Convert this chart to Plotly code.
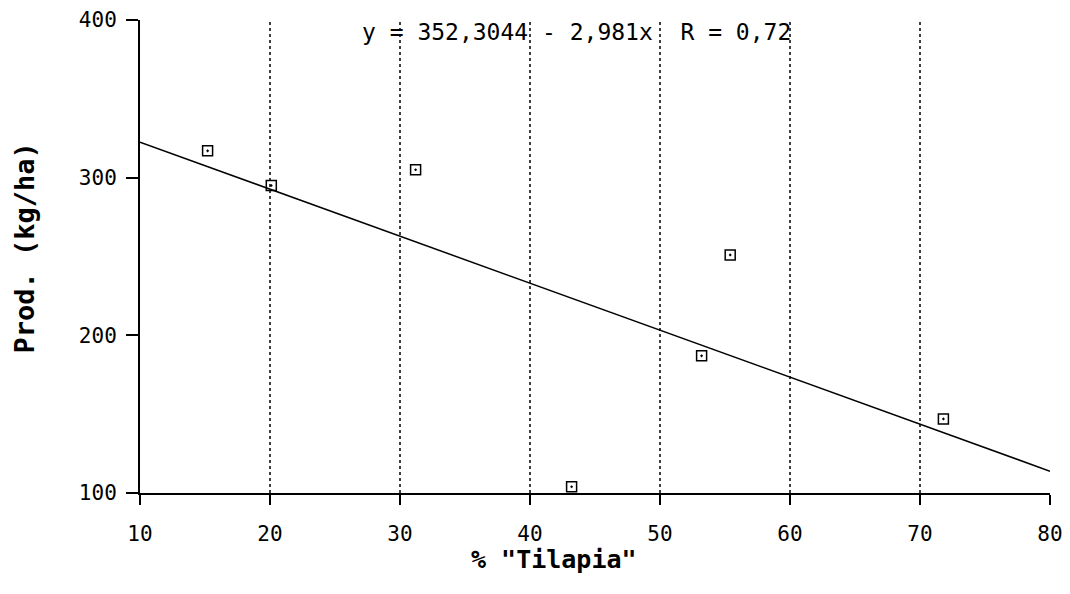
import plotly.graph_objects as go

# Data
tilapia_pct = [15.2, 20.1, 31.2, 43.2, 53.2, 55.4, 71.8]
prod_kg_ha = [317, 295, 305, 104, 187, 251, 147]

intercept = 352.3044
slope = -2.981
fit_x = [10, 80]
fit_y = [intercept + slope * v for v in fit_x]

x_ticks = [10, 20, 30, 40, 50, 60, 70, 80]
y_ticks = [100, 200, 300, 400]
grid_x = [20, 30, 40, 50, 60, 70]

equation_text = "y = 352,3044 - 2,981x  R = 0,72"
x_title = '% "Tilapia"'
y_title = "Prod. (kg/ha)"

MONO = "DejaVu Sans Mono"

fig = go.Figure()

fig.add_trace(go.Scatter(
    x=fit_x, y=fit_y, mode="lines",
    line=dict(color="black", width=1.5),
    showlegend=False, hoverinfo="skip",
))
fig.add_trace(go.Scatter(
    x=tilapia_pct, y=prod_kg_ha, mode="markers",
    marker=dict(symbol="square-open-dot", size=10, color="black",
                line=dict(color="black", width=1.5)),
    showlegend=False,
))

for gx in grid_x:
    fig.add_shape(type="line", xref="x", yref="y",
                  x0=gx, x1=gx, y0=y_ticks[0], y1=y_ticks[-1],
                  line=dict(color="black", width=1.5, dash="dot"),
                  layer="below")

fig.add_annotation(
    x=0.48, y=0.975, xref="paper", yref="paper",
    xanchor="center", yanchor="middle",
    text=equation_text, showarrow=False,
    font=dict(family=MONO, size=23, color="black"),
)
fig.add_annotation(
    x=0.455, y=0, xref="paper", yref="paper",
    xanchor="center", yanchor="middle", yshift=-66,
    text="<b>" + x_title + "</b>", showarrow=False,
    font=dict(family=MONO, size=25, color="black"),
)
fig.add_annotation(
    x=0, y=0.5, xref="paper", yref="paper",
    xanchor="center", yanchor="middle", xshift=-116, yshift=8,
    text="<b>" + y_title + "</b>", showarrow=False, textangle=-90,
    font=dict(family=MONO, size=27, color="black"),
)

fig.update_layout(
    width=1070, height=594,
    margin=dict(l=132, r=28, t=12, b=109, autoexpand=False),
    paper_bgcolor="white", plot_bgcolor="white",
    font=dict(family=MONO, size=21, color="black"),
)
fig.update_xaxes(
    range=[10, 80], tickvals=x_ticks, showgrid=False, zeroline=False,
    showline=True, linecolor="black", linewidth=2,
    ticks="outside", ticklen=10, tickwidth=1.5, tickcolor="black",
    tickfont=dict(family=MONO, size=21), ticklabelstandoff=11,
    automargin=False,
)
fig.update_yaxes(
    range=[100, 400], tickvals=y_ticks, showgrid=False, zeroline=False,
    showline=True, linecolor="black", linewidth=2,
    ticks="outside", ticklen=12, tickwidth=1.5, tickcolor="black",
    tickfont=dict(family=MONO, size=21), ticklabelstandoff=5,
    automargin=False,
)

fig.write_html("out.html")
